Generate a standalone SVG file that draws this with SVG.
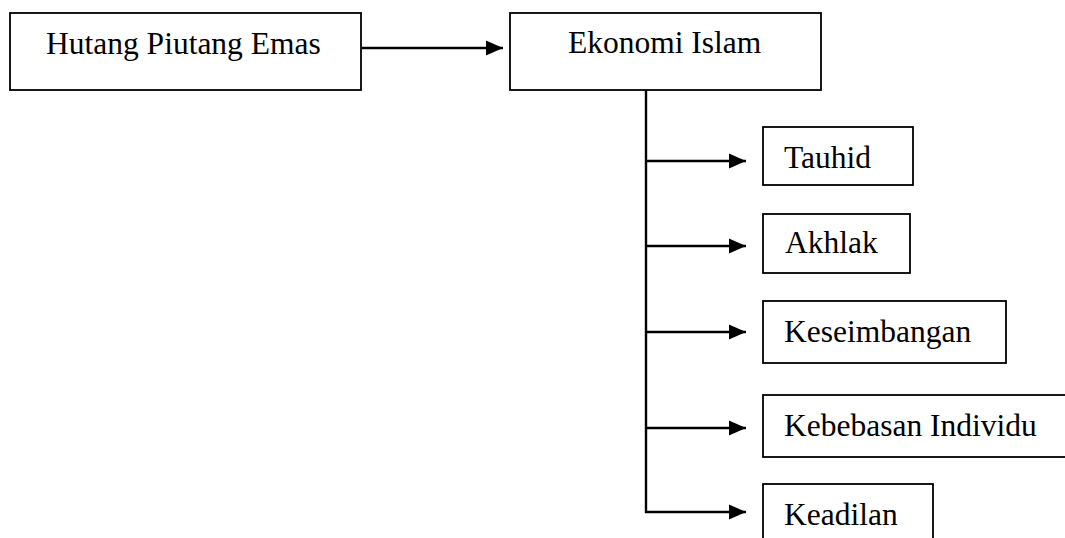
<svg xmlns="http://www.w3.org/2000/svg" width="1065" height="538" viewBox="0 0 1065 538">
<style>
.box{fill:#fff;stroke:#000;stroke-width:1.8}
.lbl{font-family:"Liberation Serif","Times New Roman","DejaVu Serif",serif;font-size:31.5px;fill:#000}
.con{fill:none;stroke:#000;stroke-width:2.4}
</style>
<defs>
<marker id="ah" markerUnits="userSpaceOnUse" markerWidth="18" markerHeight="17" refX="17" refY="8" orient="auto">
<path d="M0,0.5 L17,8 L0,15.5 Z" fill="#000"/>
</marker>
</defs>
<rect width="1065" height="538" fill="#fff"/>
<g id="hutang">
<rect class="box" x="10" y="13" width="351" height="77"/>
<text class="lbl" x="46" y="54">Hutang Piutang Emas</text>
</g>
<g id="ekonomi">
<rect class="box" x="510" y="13" width="311" height="77"/>
<text class="lbl" x="568" y="53">Ekonomi Islam</text>
</g>
<g id="tauhid">
<rect class="box" x="763" y="127" width="150" height="58"/>
<text class="lbl" x="784" y="168">Tauhid</text>
</g>
<g id="akhlak">
<rect class="box" x="763" y="214" width="147" height="59"/>
<text class="lbl" x="785" y="253">Akhlak</text>
</g>
<g id="keseimbangan">
<rect class="box" x="763" y="301" width="243" height="62"/>
<text class="lbl" x="784" y="342">Keseimbangan</text>
</g>
<g id="kebebasan">
<rect class="box" x="763" y="395" width="310" height="62"/>
<text class="lbl" x="784" y="436">Kebebasan Individu</text>
</g>
<g id="keadilan">
<rect class="box" x="763" y="484" width="170" height="70"/>
<text class="lbl" x="784" y="525">Keadilan</text>
</g>
<g id="connectors">
<line class="con" x1="362" y1="48" x2="503" y2="48" marker-end="url(#ah)"/>
<path class="con" d="M646,90 V512 H746" marker-end="url(#ah)"/>
<line class="con" x1="646" y1="161" x2="746" y2="161" marker-end="url(#ah)"/>
<line class="con" x1="646" y1="246" x2="746" y2="246" marker-end="url(#ah)"/>
<line class="con" x1="646" y1="332" x2="746" y2="332" marker-end="url(#ah)"/>
<line class="con" x1="646" y1="428" x2="746" y2="428" marker-end="url(#ah)"/>
</g>
</svg>
